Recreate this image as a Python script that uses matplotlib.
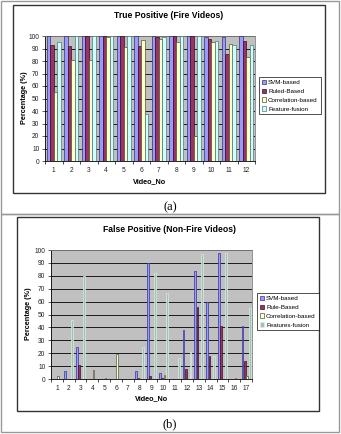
import numpy as np
import matplotlib
matplotlib.use("Agg")
import matplotlib.pyplot as plt
from matplotlib.patches import Rectangle

plt.rcParams['font.family'] = ['Liberation Sans', 'DejaVu Sans']

# (a) True Positive (Fire Videos)
svm_a = [100, 100, 100, 100, 100, 100, 100, 100, 100, 99, 99, 100]
rule_a = [93, 92, 100, 100, 100, 92, 99, 100, 100, 98, 86, 96]
corr_a = [55, 81, 81, 99, 91, 97, 98, 95, 20, 95, 94, 83]
fusion_a = [95, 100, 100, 100, 100, 38, 99, 100, 100, 96, 93, 93]
labels_a = ['SVM-based', 'Ruled-Based', 'Correlation-based', 'Feature-fusion']

# (b) False Positive (Non-Fire Videos)
svm_b = [0, 6, 25, 0, 0, 0, 0, 6, 90, 5, 0, 38, 84, 60, 98, 0, 41]
rule_b = [0, 0, 11, 0, 0, 0, 0, 0.5, 2, 0.5, 0, 8, 56, 18, 41, 0, 14]
corr_b = [2, 0, 0, 7, 1, 19, 0, 0, 0, 3, 0, 0, 0, 0, 0, 1, 2]
fusion_b = [0, 46, 80, 0, 0, 0, 0, 25, 82, 67, 16, 21, 97, 18, 98, 0, 55]
labels_b = ['SVM-based', 'Rule-Based', 'Correlation-based', 'Features-fusion']

W, H = 341, 434
fig = plt.figure(figsize=(W / 100, H / 100), dpi=100)


def rect(x0, y0, x1, y1):
    return [x0 / W, 1 - y1 / H, (x1 - x0) / W, (y1 - y0) / H]


def fx(x):
    return x / W


def fy(y):
    return 1 - y / H


def frame(x0, y0, x1, y1, color, lw):
    r = rect(x0, y0, x1, y1)
    fig.patches.append(Rectangle((r[0], r[1]), r[2], r[3], transform=fig.transFigure,
                                 fill=False, edgecolor=color, lw=lw))


# outer frames
frame(1, 1, 339, 214, '#999999', 1.0)
frame(1, 214, 339, 432, '#999999', 1.0)
frame(13, 5, 325, 193, '#333333', 1.0)
frame(17, 217, 319, 411, '#333333', 1.0)


def draw(ax, series, colors, edges, width, step):
    n = len(series[0])
    x = np.arange(1, n + 1)
    handles = []
    for k, (vals, c, e) in enumerate(zip(series, colors, edges)):
        off = (k - 1.5) * step
        h = ax.bar(x + off, vals, width, color=c, edgecolor=e, linewidth=0.5, zorder=3)
        handles.append(h)
    ax.set_facecolor('#c0c0c0')
    ax.set_ylim(0, 100)
    ax.set_xlim(0.5, n + 0.5)
    ax.set_yticks(range(0, 101, 10))
    ax.yaxis.grid(True, color='black', lw=0.6, zorder=0)
    ax.set_xticks(x)
    ax.set_xticklabels([str(i) for i in x])
    ax.set_xticks(np.arange(0.5, n + 1, 1), minor=True)
    ax.tick_params(axis='x', which='major', length=0, labelsize=4.8, pad=4, colors='#222222')
    ax.tick_params(axis='x', which='minor', length=2.5, width=0.5)
    ax.tick_params(axis='y', length=2.5, width=0.5, labelsize=4.8, pad=1.5, colors='#222222')
    for s in ['top', 'right']:
        ax.spines[s].set_color('#808080')
        ax.spines[s].set_linewidth(0.6)
    for s in ['left', 'bottom']:
        ax.spines[s].set_color('black')
        ax.spines[s].set_linewidth(0.6)
    return handles


def legend(handles, labels, x, y):
    leg = fig.legend(handles, labels, loc='upper left', bbox_to_anchor=(fx(x), fy(y)),
                     fontsize=4.5, frameon=True, fancybox=False, edgecolor='black',
                     handlelength=0.7, handleheight=0.7, handletextpad=0.3, borderpad=0.45,
                     labelspacing=0.55, borderaxespad=0)
    leg.get_frame().set_linewidth(0.6)


def texts(title, title_y, xlab_x, xlab_y, ylab_x, ylab_y):
    fig.text(fx(169), fy(title_y), title, ha='center', va='center', fontsize=6.2,
             fontweight='bold')
    fig.text(fx(xlab_x), fy(xlab_y), 'Video_No', ha='center', va='center',
             fontsize=5.2, fontweight='bold')
    fig.text(fx(ylab_x), fy(ylab_y), 'Percentage (%)', rotation=90, ha='center',
             va='center', fontsize=5.2, fontweight='bold')


# chart (a)
ax1 = fig.add_axes(rect(45, 36, 255, 161))
h1 = draw(ax1, [svm_a, rule_a, corr_a, fusion_a],
          ['#9999ff', '#993366', '#ffffcc', '#ccffff'],
          ['#333366', '#331122', '#555533', '#557777'], 0.2, 0.2)
texts('True Positive (Fire Videos)', 16, 150, 182, 24, 98)
legend(h1, labels_a, 259, 77)

# chart (b)
ax2 = fig.add_axes(rect(51, 250, 252, 379))
h2 = draw(ax2, [svm_b, rule_b, corr_b, fusion_b],
          ['#9999ff', '#993366', '#ffffcc', '#a6bfb4'],
          ['#333399', '#441122', '#555544', '#d8f0e4'], 0.15, 0.2)
texts('False Positive (Non-Fire Videos)', 229, 152, 399, 29, 314)
legend(h2, labels_b, 257, 293)

# panel captions
fig.text(fx(170), fy(207), '(a)', ha='center', va='center', fontsize=9,
         family=['Liberation Serif', 'DejaVu Serif'])
fig.text(fx(170), fy(424), '(b)', ha='center', va='center', fontsize=9,
         family=['Liberation Serif', 'DejaVu Serif'])

fig.savefig('out.png', dpi=100)
